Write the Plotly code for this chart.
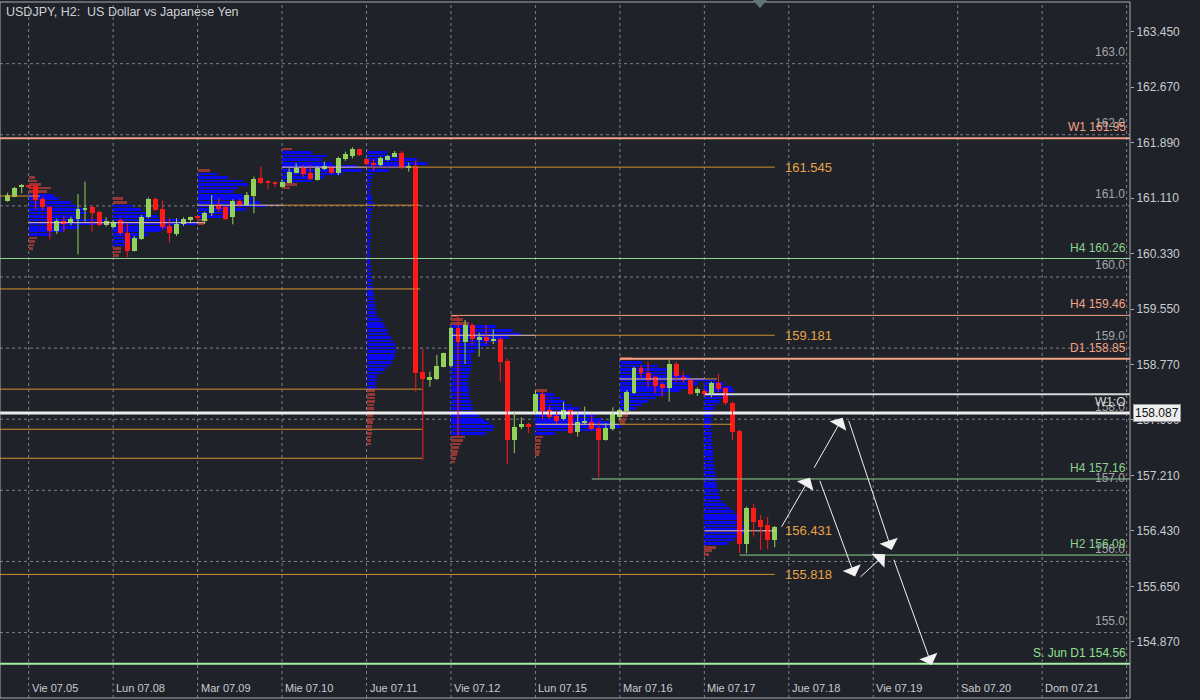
import plotly.graph_objects as go

# ---------------- data ----------------
bar_index = list(range(-3, 107))   # H2 bars, bar 0 = Vie 07.05 00:00, 12 bars per day
open_ = [161.074, 161.130, 161.261, 161.280, 161.280, 161.092, 160.989, 160.652, 160.783, 160.755,
         160.811, 160.942, 160.989, 160.919, 160.727, 160.708, 160.802, 160.624, 160.371, 160.539,
         160.849, 161.102, 160.952, 160.717, 160.605, 160.741, 160.802, 160.839, 160.792, 160.896,
         161.008, 160.980, 160.839, 161.074, 161.013, 161.139, 161.388, 161.341, 161.336, 161.270,
         161.327, 161.467, 161.528, 161.467, 161.364, 161.514, 161.552, 161.458, 161.655, 161.702,
         161.800, 161.655, 161.608, 161.575, 161.645, 161.692, 161.748, 161.542, 161.561, 158.660,
         158.561, 158.561, 158.739, 158.749, 159.278, 159.091, 159.325, 159.114, 159.161, 159.105,
         159.124, 158.824, 157.708, 157.887, 157.933, 158.107, 158.355, 158.130, 158.046, 157.999,
         158.130, 157.826, 157.952, 157.966, 157.873, 157.709, 157.858, 158.027, 158.121, 158.374,
         158.716, 158.655, 158.590, 158.496, 158.435, 158.777, 158.599, 158.552, 158.374, 158.400,
         158.341, 158.505, 158.435, 158.233, 157.840, 156.246, 156.748, 156.584, 156.513, 156.302]
high = [161.186, 161.270, 161.308, 161.294, 161.317, 161.130, 160.999, 160.820, 160.858, 160.849,
        161.167, 161.341, 161.013, 160.933, 160.839, 160.802, 160.825, 160.755, 160.577, 160.872,
        161.120, 161.120, 161.074, 160.825, 160.825, 160.839, 160.849, 160.860, 160.919, 161.153,
        161.106, 160.999, 161.092, 161.092, 161.195, 161.411, 161.552, 161.364, 161.341, 161.364,
        161.528, 161.598, 161.575, 161.575, 161.561, 161.622, 161.561, 161.692, 161.763, 161.824,
        161.809, 161.669, 161.655, 161.692, 161.716, 161.772, 161.772, 161.608, 161.636, 158.983,
        158.669, 158.904, 158.936, 159.302, 159.466, 159.396, 159.349, 159.217, 159.325, 159.264,
        159.152, 158.857, 158.107, 158.027, 157.952, 158.411, 158.411, 158.186, 158.107, 158.247,
        158.140, 158.107, 158.177, 158.060, 157.966, 157.943, 158.168, 158.154, 158.411, 158.739,
        158.763, 158.810, 158.608, 158.515, 158.857, 158.810, 158.669, 158.561, 158.449, 158.420,
        158.529, 158.636, 158.449, 158.247, 157.858, 156.771, 156.809, 156.654, 156.630, 156.499]
low = [161.060, 161.120, 161.177, 161.247, 160.952, 160.942, 160.530, 160.605, 160.638, 160.727,
       160.319, 160.778, 160.638, 160.708, 160.708, 160.685, 160.591, 160.277, 160.357, 160.521,
       160.825, 160.933, 160.670, 160.483, 160.577, 160.717, 160.755, 160.800, 160.746, 160.858,
       160.919, 160.802, 160.741, 160.980, 160.999, 160.896, 161.308, 161.233, 161.261, 161.261,
       161.317, 161.458, 161.411, 161.364, 161.355, 161.505, 161.449, 161.434, 161.636, 161.669,
       161.702, 161.575, 161.495, 161.561, 161.636, 161.683, 161.514, 161.481, 158.388, 157.427,
       158.458, 158.552, 158.730, 158.739, 157.755, 158.777, 159.044, 158.880, 159.058, 159.058,
       158.528, 157.371, 157.521, 157.858, 157.802, 158.083, 157.999, 157.999, 157.933, 157.980,
       157.793, 157.755, 157.919, 157.840, 157.184, 157.699, 157.840, 157.990, 158.083, 158.355,
       158.590, 158.449, 158.365, 158.318, 158.247, 158.529, 158.515, 158.341, 158.327, 158.330,
       158.308, 158.388, 158.201, 157.709, 156.115, 156.115, 156.349, 156.162, 156.171, 156.199]
close = [161.153, 161.256, 161.289, 161.270, 161.083, 160.989, 160.652, 160.792, 160.741, 160.820,
         160.952, 160.975, 160.896, 160.727, 160.792, 160.774, 160.614, 160.371, 160.549, 160.849,
         161.102, 160.942, 160.699, 160.614, 160.745, 160.811, 160.839, 160.830, 160.905, 161.008,
         160.961, 160.811, 161.074, 161.013, 161.149, 161.383, 161.317, 161.327, 161.317, 161.341,
         161.481, 161.528, 161.449, 161.374, 161.538, 161.566, 161.458, 161.678, 161.725, 161.800,
         161.711, 161.589, 161.570, 161.674, 161.702, 161.748, 161.552, 161.561, 158.646, 158.561,
         158.589, 158.749, 158.927, 159.278, 159.091, 159.325, 159.124, 159.152, 159.105, 159.128,
         158.810, 157.708, 157.887, 157.933, 157.896, 158.355, 158.121, 158.027, 157.980, 158.130,
         157.812, 157.966, 157.980, 157.858, 157.709, 157.873, 158.107, 158.130, 158.388, 158.716,
         158.646, 158.552, 158.468, 158.435, 158.777, 158.608, 158.552, 158.355, 158.421, 158.360,
         158.505, 158.421, 158.224, 157.826, 156.246, 156.748, 156.560, 156.490, 156.302, 156.480]

bars_per_day = 12
bar_px = 7.038
day_labels = ["Vie 07.05", "Lun 07.08", "Mar 07.09", "Mie 07.10", "Jue 07.11", "Vie 07.12", "Lun 07.15",
              "Mar 07.16", "Mie 07.17", "Jue 07.18", "Vie 07.19", "Sab 07.20", "Dom 07.21"]

price_ticks = [154.87, 155.65, 156.43, 157.21, 157.99, 158.77, 159.55, 160.33, 161.11, 161.89, 162.67, 163.45]
round_levels = [155, 156, 157, 158, 159, 160, 161, 162, 163]

# daily volume profiles (row step 0.05, volumes in px units)
profile_step = 0.05
profile_day = [0, 1, 2, 3, 4, 5, 6, 7, 8]
profile_top = [161.40, 161.10, 161.50, 161.80, 161.75, 159.45, 158.40, 158.85, 158.55]
profile_va_high = [161.15, 161.00, 161.45, 161.75, 161.75, 159.30, 158.35, 158.80, 158.55]
profile_va_low = [160.60, 160.45, 160.85, 161.35, 158.45, 157.80, 157.80, 158.15, 156.25]
profile_vol = [
    [6, 8, 12, 22, 18, 25, 30, 42, 48, 55, 58, 52, 78, 80, 50, 35, 22, 8, 6, 5, 4],
    [10, 14, 20, 28, 38, 45, 70, 84, 60, 48, 35, 25, 18, 12, 8, 8, 6],
    [12, 20, 30, 45, 50, 40, 36, 45, 55, 62, 68, 48, 35, 25, 10, 6],
    [10, 30, 45, 40, 50, 75, 80, 60, 42, 30, 15, 8],
    [20, 35, 50, 60, 42, 22, 6, 5, 4, 4, 3, 3, 4, 5, 6, 6, 5, 4, 4, 3, 3, 3, 3, 4, 4, 3, 3, 3,
     3, 3, 3, 3, 4, 4, 4, 5, 5, 5, 6, 6, 7, 7, 8, 8, 9, 9, 10, 14, 16, 18, 20, 22, 24, 26, 28,
     29, 29, 28, 27, 25, 22, 18, 14, 10, 10, 9, 9, 8, 8, 8, 8, 7, 7, 7, 6, 6, 6, 5, 5, 5, 4, 4, 4],
    [8, 12, 18, 45, 62, 70, 58, 48, 38, 30, 24, 20, 20, 21, 20, 20, 19, 18, 17, 17, 18, 18, 18,
     19, 20, 21, 22, 24, 28, 33, 38, 43, 42, 35, 14, 12, 10, 8, 7, 6, 5, 4],
    [12, 19, 25, 30, 36, 44, 52, 60, 66, 79, 86, 66, 20, 8, 6, 6, 5, 5, 4],
    [12, 22, 38, 52, 58, 70, 90, 78, 72, 60, 45, 36, 28, 22, 16, 10, 8, 6, 5],
    [12, 20, 28, 30, 28, 22, 16, 12, 10, 8, 8, 7, 7, 7, 7, 8, 8, 8, 8, 9, 9, 9, 10, 10, 10, 11,
     11, 12, 12, 12, 13, 14, 15, 16, 18, 22, 26, 30, 33, 36, 38, 40, 44, 42, 36, 30, 24, 12, 8, 5],
]

# key levels drawn to the right edge
level_price = [161.95, 160.26, 159.46, 158.85, 158.35, 158.087, 157.16, 156.09, 154.56]
level_text = ["W1 161.95", "H4 160.26", "H4 159.46", "D1 158.85", "", "W1:O", "H4 157.16", "H2 156.09",
              "S. Jun D1 154.56"]
level_start = [-5, -5, 60, 84, 96, -5, 80, 101, -5]
level_kind = ["salmon2", "green", "salmon", "salmon2", "white", "white2", "green", "green", "green2"]

# point of control lines: [price, start bar, end bar, kind]
poc_price = [160.764, 161.545, 161.01, 159.181, 157.929, 158.566, 156.431,
             161.545, 161.01, 159.181, 157.929, 158.566,
             161.139, 159.832, 158.423, 157.859, 157.451, 155.818]
poc_start = [0, 36, 24, 60, 72, 84, 96, 48, 36, 72, 84, 96, -5, -5, -5, -5, -5, -5]
poc_end = [25.0, 48, 36, 72, 84, 96, 106.3, 106.0, 55.6, 106.0, 100.1, 97.8, 1.6, 55.6, 55.9, 55.9, 55.9, 106.0]
poc_kind = ["pink"] * 7 + ["orange"] * 11
poc_label_price = [161.545, 159.181, 156.431, 155.818]
poc_label_text = ["161.545", "159.181", "156.431", "155.818"]

# analyst arrows (bar index, price)
arrow_from_bar = [106.85, 111.48, 112.33, 117.97, 116.45, 122.85]
arrow_from_price = [156.467, 157.297, 157.156, 155.764, 157.999, 156.045]
arrow_to_bar = [111.01, 115.66, 117.41, 121.67, 122.62, 128.30]
arrow_to_price = [157.178, 158.022, 155.787, 156.101, 156.162, 154.545]

current_box = 158.087

# ---------------- styles ----------------
BG = "#1f2229"
GRID = "#7c8187"
FONT = "Liberation Sans, Arial, sans-serif"
NARROW = "Liberation Sans Narrow, Arial Narrow, Liberation Sans, Arial, sans-serif"
C_UP = "#93d25a"
C_DN = "#ff1a1a"
BLUE = "#0b0bef"
PRED = "#933636"
kinds = {
    "salmon": ("#f2a284", 1), "salmon2": ("#f2a284", 2), "green": ("#8fd18f", 1),
    "green2": ("#a6eea6", 2), "white": ("#d8d8d8", 2), "white2": ("#ececec", 3),
    "pink": ("#f0c4b6", 1), "orange": ("#d4902c", 1),
}
label_color = {"salmon": "#f2a284", "salmon2": "#f2a284", "green": "#8fd18f", "green2": "#8fe08f",
               "white": "#d8d8d8", "white2": "#d8d8d8"}

X_MIN = -28.7 / bar_px
X_MAX = (1130 - 28.7) / bar_px
Y_MIN, Y_MAX = 154.08, 163.867

fig = go.Figure()

# volume profiles
for d, top, vah, val, vols in zip(profile_day, profile_top, profile_va_high, profile_va_low, profile_vol):
    lv = [round(top - k * profile_step, 3) for k in range(len(vols))]
    cols = [BLUE if (val - 1e-6) <= p <= (vah + 1e-6) else PRED for p in lv]
    fig.add_trace(go.Bar(orientation="h", y=lv, x=[v / bar_px for v in vols], base=d * bars_per_day,
                         width=0.037, marker=dict(color=cols, line_width=0), hoverinfo="skip"))

# horizontal level lines
for p, s, k in zip(level_price, level_start, level_kind):
    col, w = kinds[k]
    fig.add_trace(go.Scatter(x=[s, X_MAX + 5], y=[p, p], mode="lines", line=dict(color=col, width=w),
                             hoverinfo="skip"))
for p, s, e, k in zip(poc_price, poc_start, poc_end, poc_kind):
    col, w = kinds[k]
    fig.add_trace(go.Scatter(x=[s, e], y=[p, p], mode="lines", line=dict(color=col, width=w),
                             hoverinfo="skip"))

# candles: wicks then bodies
for up in (True, False):
    xs, ys, bx, bh, bb = [], [], [], [], []
    for i, o, h, l, c in zip(bar_index, open_, high, low, close):
        if (c >= o) != up:
            continue
        xs += [i, i, None]
        ys += [l, h, None]
        bx.append(i)
        bb.append(min(o, c))
        bh.append(max(abs(c - o), 0.016))
    col = C_UP if up else C_DN
    fig.add_trace(go.Scatter(x=xs, y=ys, mode="lines", line=dict(color=col, width=1), hoverinfo="skip"))
    fig.add_trace(go.Bar(x=bx, y=bh, base=bb, width=0.7, marker=dict(color=col, line_width=0),
                         hoverinfo="skip"))

shapes = []
for k in range(len(day_labels) + 1):
    shapes.append(dict(type="line", xref="x", yref="paper", x0=k * bars_per_day, x1=k * bars_per_day,
                       y0=0, y1=1, line=dict(color=GRID, width=1, dash="3px,3px"), layer="below"))
for p in round_levels:
    shapes.append(dict(type="line", xref="paper", yref="y", x0=0, x1=1, y0=p, y1=p,
                       line=dict(color=GRID, width=1, dash="3px,3px"), layer="below"))
shapes.append(dict(type="rect", xref="paper", yref="paper", x0=0, x1=1, y0=0, y1=1,
                   line=dict(color="#a9adb2", width=1)))
shapes.append(dict(type="path", xref="x", yref="paper",
                   path="M 102.9 1.003 L 104.9 1.003 L 103.9 0.991 Z",
                   fillcolor="#5d7873", line=dict(width=0)))

ann = []
ann.append(dict(xref="paper", yref="paper", x=0, y=1, xanchor="left", yanchor="top", xshift=4, yshift=-1,
                text="USDJPY, H2:&nbsp; US Dollar vs Japanese Yen", showarrow=False,
                font=dict(family=FONT, size=12.5, color="#cfd2d6")))
for k, t in enumerate(day_labels):
    ann.append(dict(xref="x", yref="paper", x=k * bars_per_day, y=0, xanchor="left", yanchor="bottom",
                    xshift=1, yshift=2, text=t, showarrow=False,
                    font=dict(family=NARROW, size=11, color="#c8cbcf")))
for p in round_levels:
    ann.append(dict(xref="paper", yref="y", x=1, y=p, xanchor="right", yanchor="bottom", xshift=-3, yshift=3,
                    text=f"{p:.1f}", showarrow=False, font=dict(family=FONT, size=12, color="#a3a7ac")))
for p, t, k in zip(level_price, level_text, level_kind):
    if not t:
        continue
    ann.append(dict(xref="paper", yref="y", x=1, y=p, xanchor="right", yanchor="bottom", xshift=-2, yshift=2,
                    text=t, showarrow=False, font=dict(family=FONT, size=12, color=label_color[k])))
for p, t in zip(poc_label_price, poc_label_text):
    ann.append(dict(xref="x", yref="y", x=107.2, y=p, xanchor="left", yanchor="middle", text=t,
                    showarrow=False, font=dict(family=FONT, size=13, color="#e6a446")))
for fb, fp, tb, tp in zip(arrow_from_bar, arrow_from_price, arrow_to_bar, arrow_to_price):
    ann.append(dict(xref="x", yref="y", axref="x", ayref="y", x=tb, y=tp, ax=fb, ay=fp, text="",
                    showarrow=True, arrowhead=1, arrowsize=3.2, arrowwidth=1, arrowcolor="#f2f2f2",
                    standoff=0, startstandoff=0))
ann.append(dict(xref="paper", yref="y", x=1, y=current_box, xanchor="left", yanchor="middle", xshift=3,
                text=f"{current_box:.3f}", showarrow=False, bgcolor="#eeeeee", bordercolor="#9a9a9a",
                borderwidth=1, borderpad=1, font=dict(family=FONT, size=12, color="#111111")))

fig.update_layout(
    width=1200, height=700, margin=dict(l=0, r=70, t=2, b=2),
    paper_bgcolor=BG, plot_bgcolor=BG, showlegend=False, barmode="overlay", bargap=0,
    hovermode=False, shapes=shapes, annotations=ann,
    xaxis=dict(range=[X_MIN, X_MAX], visible=False, fixedrange=True),
    yaxis=dict(range=[Y_MIN, Y_MAX], side="right", tickvals=price_ticks,
               ticktext=[f"{v:.3f}" for v in price_ticks], ticks="outside", ticklen=3,
               tickcolor="#a9adb2", tickfont=dict(family=FONT, size=12, color="#c8cbcf"),
               showgrid=False, zeroline=False, showline=False, fixedrange=True),
)

fig.write_html("out.html", config={"displayModeBar": False},
               post_script="document.body.style.margin='0';document.body.style.background='" + BG + "';")
